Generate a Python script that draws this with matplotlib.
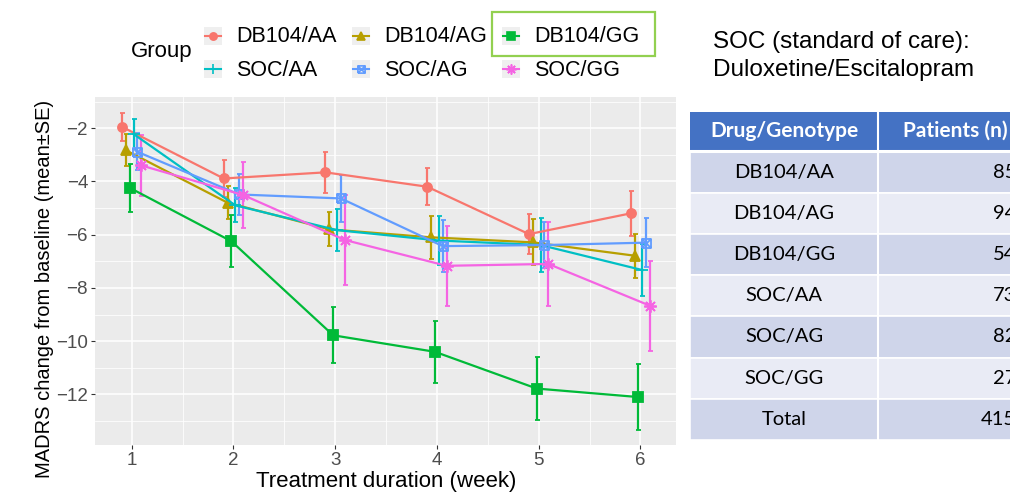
import matplotlib
matplotlib.use('Agg')
import matplotlib.pyplot as plt
from matplotlib.path import Path
from matplotlib.patches import Rectangle
import numpy as np

plt.rcParams['font.family'] = ['Liberation Sans', 'DejaVu Sans']

# data (mean change and SE per week)
weeks = [1, 2, 3, 4, 5, 6]
groups = ['DB104/AA', 'DB104/AG', 'DB104/GG', 'SOC/AA', 'SOC/AG', 'SOC/GG']
db104_aa = [-1.95, -3.89, -3.66, -4.20, -5.98, -5.20]
db104_aa_se = [0.53, 0.69, 0.77, 0.70, 0.74, 0.85]
db104_ag = [-2.83, -4.80, -5.80, -6.10, -6.29, -6.79]
db104_ag_se = [0.60, 0.62, 0.64, 0.81, 0.86, 0.83]
db104_gg = [-4.24, -6.25, -9.78, -10.40, -11.78, -12.10]
db104_gg_se = [0.90, 0.98, 1.05, 1.16, 1.18, 1.23]
soc_aa = [-2.22, -4.90, -5.83, -6.22, -6.39, -7.33]
soc_aa_se = [0.56, 0.64, 0.78, 0.92, 1.02, 0.97]
soc_ag = [-2.89, -4.49, -4.64, -6.43, -6.39, -6.30]
soc_ag_se = [0.69, 0.77, 0.87, 0.97, 0.86, 0.92]
soc_gg = [-3.40, -4.51, -6.20, -7.17, -7.10, -8.67]
soc_gg_se = [1.15, 1.25, 1.69, 1.50, 1.57, 1.69]

# table on the right
table_header = ['Drug/Genotype', 'Patients (n)']
table_groups = ['DB104/AA', 'DB104/AG', 'DB104/GG', 'SOC/AA', 'SOC/AG', 'SOC/GG', 'Total']
table_n = [85, 94, 54, 73, 82, 27, 415]

means = [db104_aa, db104_ag, db104_gg, soc_aa, soc_ag, soc_gg]
ses = [db104_aa_se, db104_ag_se, db104_gg_se, soc_aa_se, soc_ag_se, soc_gg_se]
colors = ['#F8766D', '#B79F00', '#00BA38', '#00BFC4', '#619CFF', '#F564E3']

# square with a cross (ggplot shape 7)
sq_x = Path([(-1, -1), (1, -1), (1, 1), (-1, 1), (-1, -1), (-1, -1), (1, 1), (-1, 1), (1, -1)],
            [Path.MOVETO, Path.LINETO, Path.LINETO, Path.LINETO, Path.LINETO,
             Path.MOVETO, Path.LINETO, Path.MOVETO, Path.LINETO])
markers = ['o', '^', 's', '+', sq_x, (8, 2, 0)]
msizes = [6.5, 7.5, 6.5, 9, 6.5, 9]

W, H = 1010, 493
fig = plt.figure(figsize=(W / 100, H / 100), dpi=100)

L, R, T, B = 95, 676, 97, 445
ax = fig.add_axes([L / W, 1 - B / H, (R - L) / W, (B - T) / H])
ax.set_facecolor('#EBEBEB')
for s in ax.spines.values():
    s.set_visible(False)
ax.set_xlim(0.64, 6.35)
ax.set_ylim(-13.9, -0.83)
ax.set_xticks(weeks)
ax.set_yticks([-2, -4, -6, -8, -10, -12])
ax.set_xticks(np.arange(1.5, 6.5, 1), minor=True)
ax.set_yticks(np.arange(-13, 0, 2), minor=True)
ax.grid(which='major', color='white', lw=1.1)
ax.grid(which='minor', color='white', lw=0.55)
ax.set_axisbelow(True)
ax.tick_params(which='major', length=3, width=0.8, color='#333333',
               labelsize=13.5, labelcolor='#4D4D4D', pad=2)
ax.tick_params(which='minor', length=0)

offsets = np.linspace(-0.095, 0.095, 6)
for i in range(6):
    x = np.array(weeks) + offsets[i]
    mfc = 'none' if i in (3, 4, 5) else colors[i]
    ax.errorbar(x, means[i], yerr=ses[i], color=colors[i], lw=1.6, elinewidth=1.6,
                capsize=1.8, capthick=1.6, marker=markers[i], ms=msizes[i],
                mfc=mfc, mec=colors[i], mew=1.3)

fig.text(386 / W, 1 - 481 / H, 'Treatment duration (week)', ha='center', va='center',
         fontsize=16, color='black')
fig.text(45 / W, 1 - 289 / H, 'MADRS change from baseline (mean\u00b1SE)', ha='center',
         va='center', rotation=90, fontsize=14.5, color='black')

# overlay in pixel coordinates for legend, note and table
ov = fig.add_axes([0, 0, 1, 1], facecolor='none')
ov.set_xlim(0, W)
ov.set_ylim(H, 0)
ov.axis('off')

ov.text(131, 52, 'Group', fontsize=16, va='center', ha='left')
key_x = [213, 361, 511]
key_y = [36, 69]
for i, g in enumerate(groups):
    kx, ky = key_x[i % 3], key_y[i // 3]
    ov.add_patch(Rectangle((kx - 9, ky - 9), 18, 18, fc='#EFEFEF', ec='none'))
    ov.plot([kx - 8, kx + 8], [ky, ky], color=colors[i], lw=1.5, clip_on=False)
    mfc = 'none' if i in (3, 4, 5) else colors[i]
    ov.plot(kx, ky, marker=markers[i], ms=msizes[i] * 0.8, color=colors[i], mfc=mfc,
            mew=1.2, clip_on=False)
    ov.text(kx + 23, ky + 1, g, fontsize=15.5, va='center', ha='left')
ov.add_patch(Rectangle((492, 12), 163, 44, fc='none', ec='#92D050', lw=1.6))

ov.text(713, 42, 'SOC (standard of care):', fontsize=17.5, va='center', ha='left')
ov.text(713, 70, 'Duloxetine/Escitalopram', fontsize=17.5, va='center', ha='left')

# table
tx0, tx1, tx2 = 690, 878, 1032
ov.add_patch(Rectangle((tx0, 111.5), tx2 - tx0, 39, fc='#4472C4', ec='none'))
ov.text((tx0 + tx1) / 2, 131, table_header[0], fontsize=15, fontweight='bold', color='white',
        ha='center', va='center', family=['Lato', 'DejaVu Sans'])
ov.text((tx1 + tx2) / 2, 131, table_header[1], fontsize=15, fontweight='bold', color='white',
        ha='center', va='center', family=['Lato', 'DejaVu Sans'])
row_top = 152
row_h = 41.1
for j, (g, n) in enumerate(zip(table_groups, table_n)):
    y0 = row_top + j * row_h
    fc = '#CFD5EA' if j % 2 == 0 else '#E9EBF5'
    ov.add_patch(Rectangle((tx0, y0), tx2 - tx0, row_h, fc=fc, ec='white', lw=1.2))
    ov.text((tx0 + tx1) / 2, y0 + row_h / 2, g, fontsize=14.5, ha='center', va='center',
            family=['Lato', 'DejaVu Sans'])
    ov.text(1016, y0 + row_h / 2, str(n), fontsize=14.5, ha='right', va='center',
            family=['Lato', 'DejaVu Sans'])
ov.plot([tx1, tx1], [111.5, row_top + 7 * row_h], color='white', lw=1.5)
ov.plot([tx0, tx2], [151, 151], color='white', lw=2.2)

fig.savefig('out.png', dpi=100)
